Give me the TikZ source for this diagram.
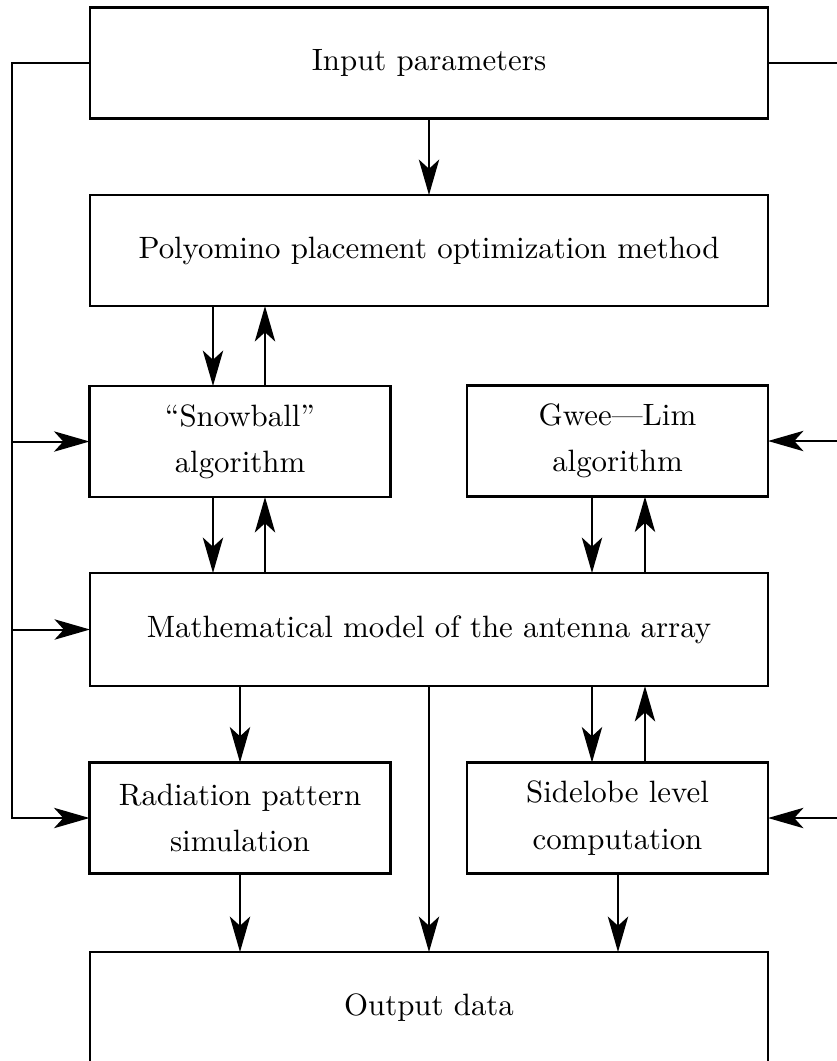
\documentclass[tikz,border=0pt]{standalone}
\usetikzlibrary{arrows.meta}

\begin{document}
\begin{tikzpicture}[
  x=0.324pt, y=-0.324pt,
  block/.style={draw, line width=0.8pt, rectangle, inner sep=0pt, outer sep=0pt,
    align=center, font=\fontsize{10}{15}\selectfont},
  wide/.style={block, minimum width=678*0.324pt, minimum height=111*0.324pt},
  half/.style={block, minimum width=301*0.324pt, minimum height=111*0.324pt},
  link/.style={line width=0.65pt},
  arr/.style={link, -{Stealth[length=11.5pt, width=6.6pt, inset=3pt]}}
]
\useasboundingbox (0,0) rectangle (837,1061);
\clip (0,0) rectangle (837,1061);

% blocks
\node[wide] (inp)  at (429,63)     {Input parameters};
\node[wide] (poly) at (429,250.5)  {Polyomino placement optimization method};
\node[half] (snow) at (240,441.5)  {``Snowball''\\algorithm};
\node[half] (gwee) at (617.5,441)  {Gwee---Lim\\algorithm};
\node[wide, minimum height=113*0.324pt] (math) at (429,629.5) {Mathematical model of the antenna array};
\node[half] (rad)  at (240,818)    {Radiation pattern\\simulation};
\node[half] (side) at (617.5,818)  {Sidelobe level\\computation};
\node[wide] (out)  at (429,1007.5) {Output data};

% columns of the vertical connectors
\coordinate (cA) at (213,0);
\coordinate (cB) at (265,0);
\coordinate (cC) at (240,0);
\coordinate (cD) at (429,0);
\coordinate (cE) at (592,0);
\coordinate (cF) at (645,0);
\coordinate (cG) at (618,0);
% side buses
\coordinate (lb) at (12,0);
\coordinate (rb) at (846,0);

% main flow
\draw[arr] (inp.south) -- (poly.north);
\draw[arr] (poly.south -| cA) -- (snow.north -| cA);
\draw[arr] (snow.north -| cB) -- (poly.south -| cB);
\draw[arr] (snow.south -| cA) -- (math.north -| cA);
\draw[arr] (math.north -| cB) -- (snow.south -| cB);
\draw[arr] (gwee.south -| cE) -- (math.north -| cE);
\draw[arr] (math.north -| cF) -- (gwee.south -| cF);
\draw[arr] (math.south -| cC) -- (rad.north -| cC);
\draw[arr] (math.south -| cD) -- (out.north -| cD);
\draw[arr] (math.south -| cE) -- (side.north -| cE);
\draw[arr] (side.north -| cF) -- (math.south -| cF);
\draw[arr] (rad.south -| cC) -- (out.north -| cC);
\draw[arr] (side.south -| cG) -- (out.north -| cG);

% left bus from the input parameters
\draw[arr] (inp.west) -| (lb |- rad.west) -- (rad.west);
\draw[arr] (lb |- snow.west) -- (snow.west);
\draw[arr] (lb |- math.west) -- (math.west);

% right bus from the input parameters
\draw[arr] (inp.east) -| (rb |- side.east) -- (side.east);
\draw[arr] (rb |- gwee.east) -- (gwee.east);
\end{tikzpicture}
\end{document}
